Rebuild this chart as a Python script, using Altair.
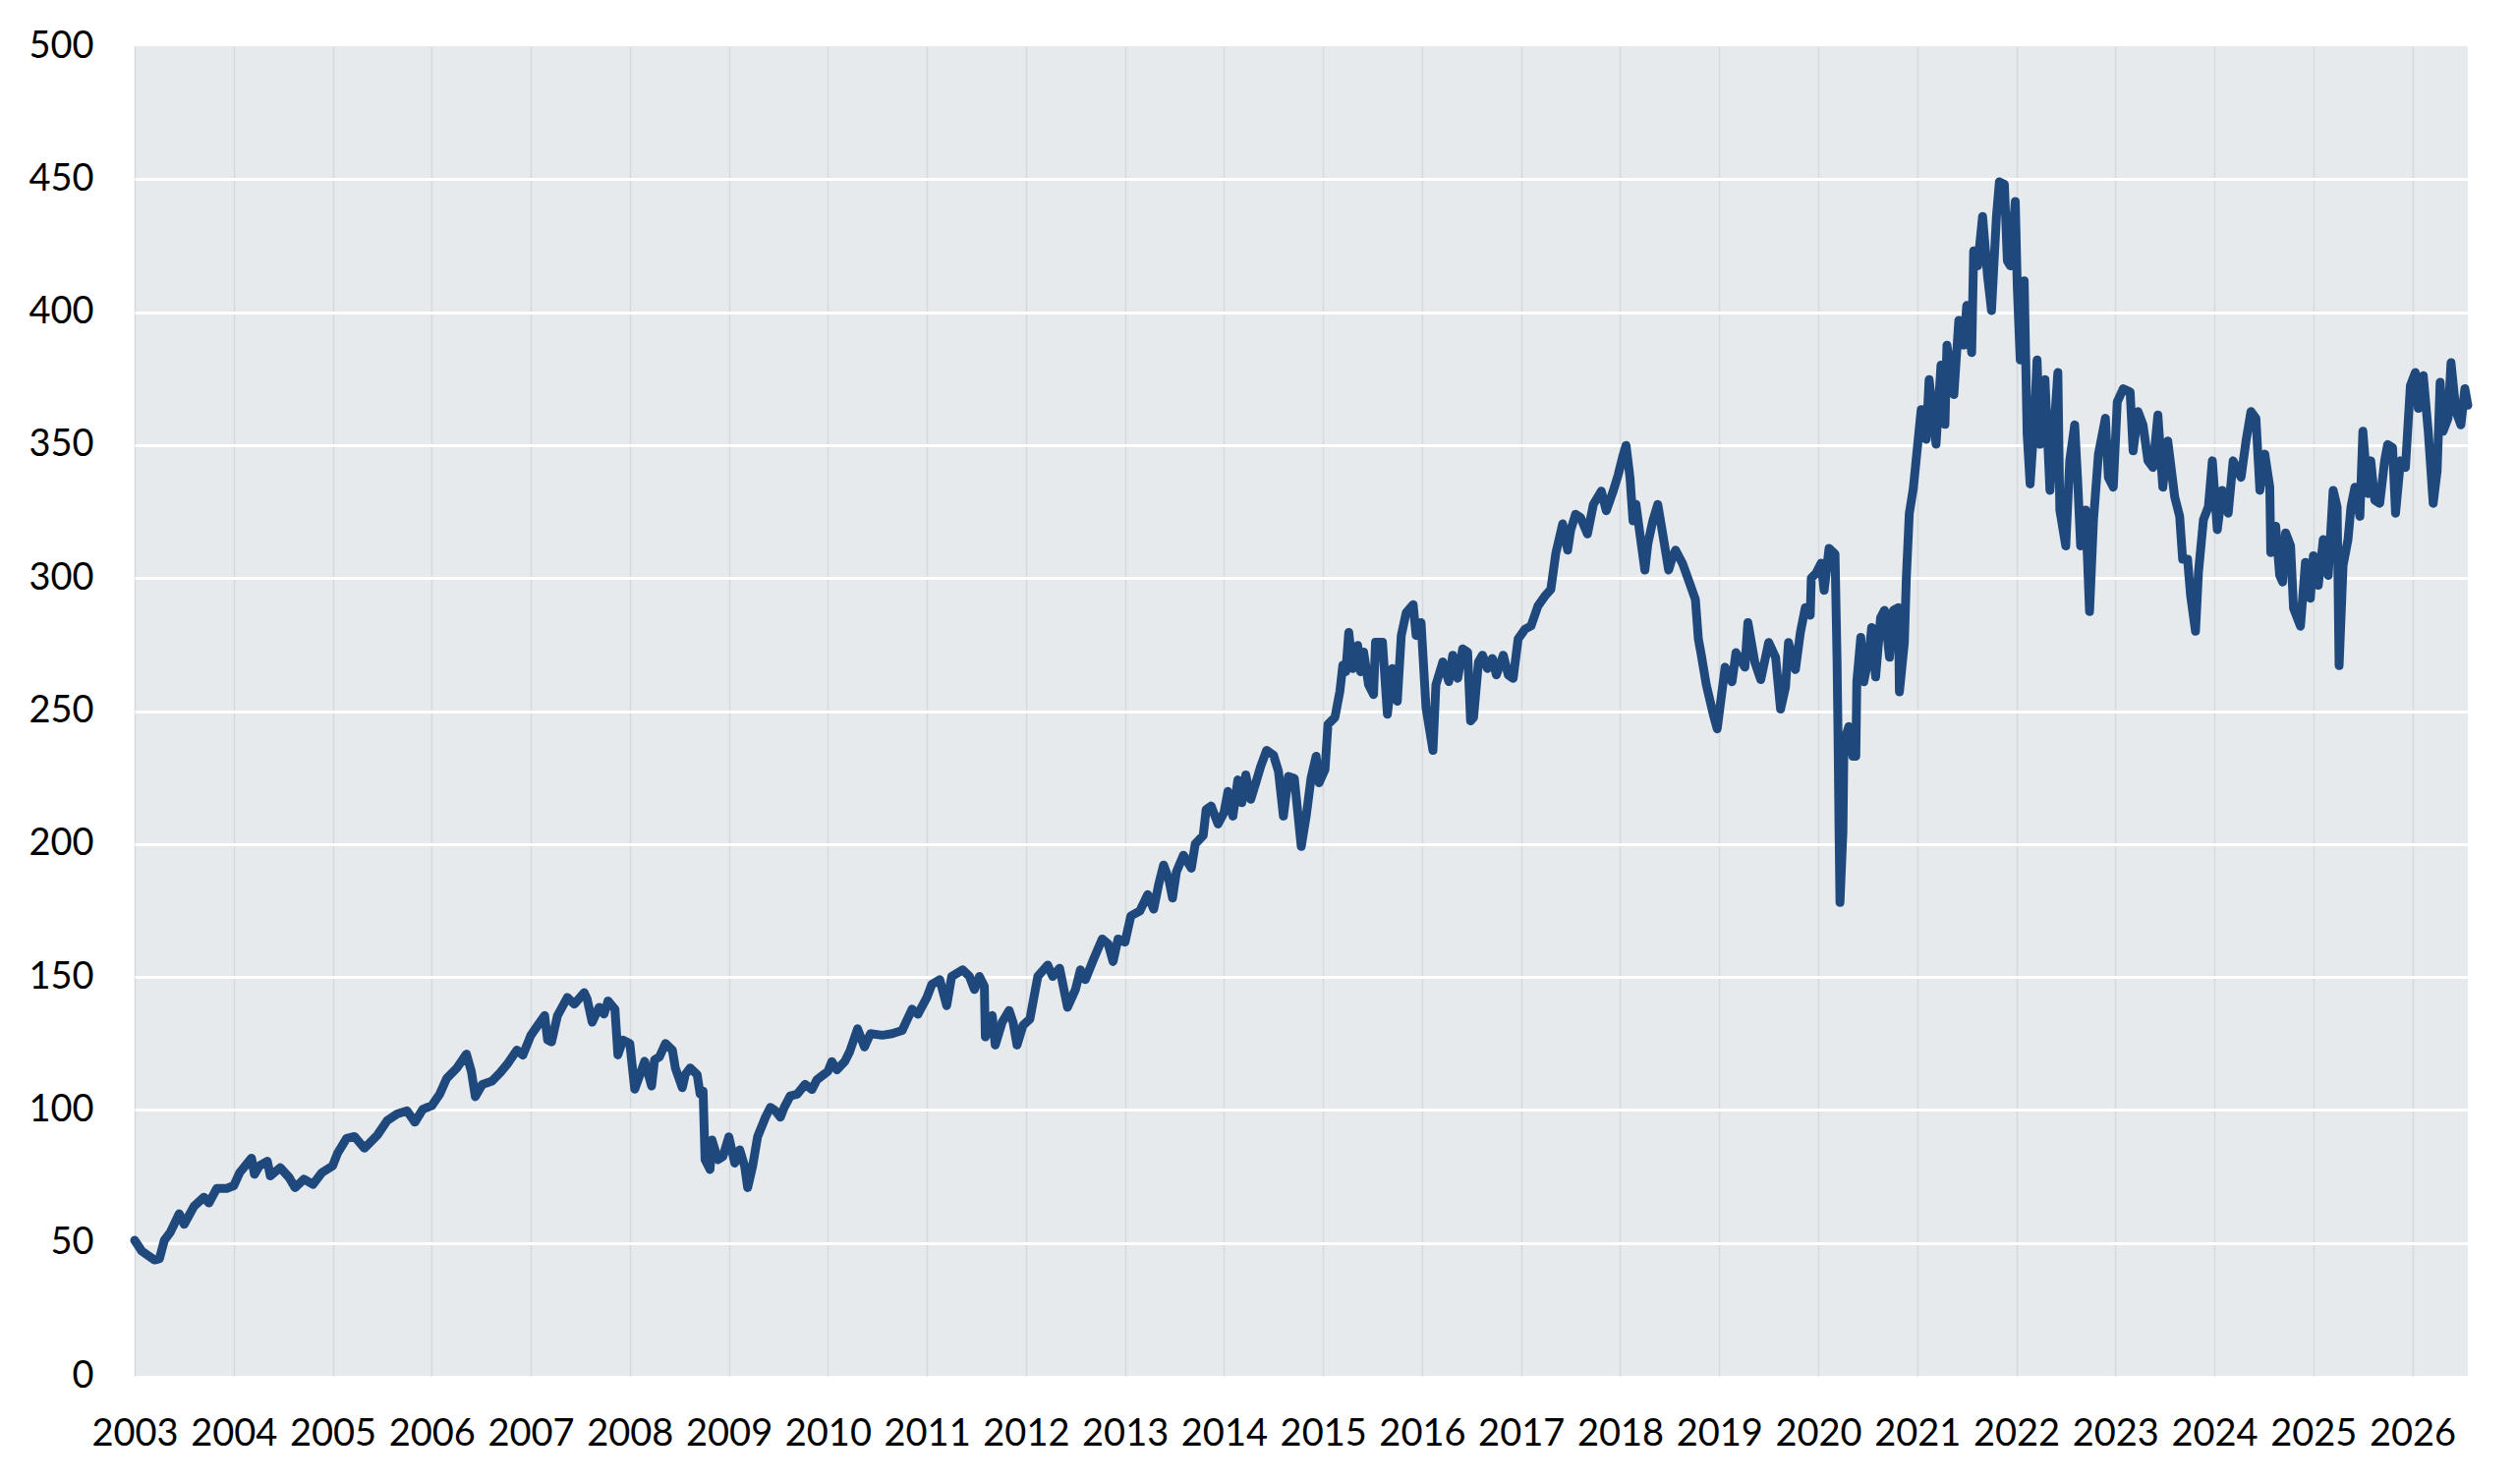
import pandas as pd
import altair as alt

# index level, decimal year -> value
years = [
    2003.00, 2003.07, 2003.13, 2003.20, 2003.25, 2003.30, 2003.36, 2003.45, 2003.50, 2003.60, 2003.70, 2003.75, 2003.83, 2003.93,
    2004.00, 2004.06, 2004.18, 2004.21, 2004.26, 2004.34, 2004.37, 2004.47, 2004.56, 2004.62, 2004.71, 2004.80, 2004.89,
    2005.00, 2005.05, 2005.14, 2005.22, 2005.32, 2005.45, 2005.55, 2005.65, 2005.75, 2005.83, 2005.91,
    2006.00, 2006.08, 2006.15, 2006.25, 2006.35, 2006.40, 2006.44, 2006.51, 2006.61, 2006.69, 2006.77, 2006.86, 2006.92,
    2007.00, 2007.07, 2007.14, 2007.17, 2007.21, 2007.27, 2007.37, 2007.44, 2007.54, 2007.57, 2007.62, 2007.69, 2007.74, 2007.78, 2007.85, 2007.88, 2007.93,
    2008.00, 2008.05, 2008.15, 2008.22, 2008.25, 2008.30, 2008.36, 2008.43, 2008.46, 2008.53, 2008.56, 2008.61, 2008.68, 2008.71, 2008.74, 2008.76, 2008.81, 2008.83, 2008.89, 2008.94,
    2009.00, 2009.06, 2009.11, 2009.16, 2009.19, 2009.24, 2009.29, 2009.37, 2009.42, 2009.47, 2009.52, 2009.56, 2009.62, 2009.69, 2009.77, 2009.84, 2009.89,
    2010.00, 2010.04, 2010.09, 2010.17, 2010.22, 2010.30, 2010.37, 2010.43, 2010.55, 2010.65, 2010.75, 2010.85, 2010.91,
    2011.00, 2011.05, 2011.13, 2011.20, 2011.25, 2011.36, 2011.43, 2011.48, 2011.53, 2011.58, 2011.59, 2011.66, 2011.69, 2011.76, 2011.83, 2011.87, 2011.91, 2011.97,
    2012.04, 2012.12, 2012.22, 2012.27, 2012.34, 2012.42, 2012.50, 2012.55, 2012.60, 2012.68, 2012.77, 2012.83, 2012.88, 2012.93,
    2013.00, 2013.06, 2013.15, 2013.23, 2013.29, 2013.34, 2013.39, 2013.44, 2013.48, 2013.52, 2013.59, 2013.67, 2013.71, 2013.79, 2013.82, 2013.87, 2013.94,
    2014.00, 2014.04, 2014.09, 2014.14, 2014.18, 2014.22, 2014.27, 2014.32, 2014.37, 2014.43, 2014.50, 2014.55, 2014.60, 2014.65, 2014.71, 2014.78, 2014.83, 2014.88, 2014.93, 2014.96,
    2015.02, 2015.05, 2015.12, 2015.17, 2015.20, 2015.23, 2015.26, 2015.30, 2015.35, 2015.38, 2015.41, 2015.46, 2015.51, 2015.53, 2015.60, 2015.65, 2015.70, 2015.75, 2015.79, 2015.84, 2015.91, 2015.94, 2015.99,
    2016.04, 2016.11, 2016.14, 2016.21, 2016.27, 2016.31, 2016.36, 2016.41, 2016.46, 2016.49, 2016.52, 2016.57, 2016.61, 2016.66, 2016.71, 2016.75, 2016.82, 2016.87, 2016.92, 2016.97,
    2017.04, 2017.10, 2017.17, 2017.24, 2017.30, 2017.35, 2017.42, 2017.47, 2017.50, 2017.55, 2017.60, 2017.67, 2017.73, 2017.81, 2017.86, 2017.93, 2017.98,
    2018.03, 2018.06, 2018.10, 2018.13, 2018.16, 2018.20, 2018.25, 2018.28, 2018.33, 2018.38, 2018.43, 2018.49, 2018.53, 2018.56, 2018.63, 2018.69, 2018.76, 2018.79, 2018.82, 2018.87, 2018.94, 2018.98,
    2019.06, 2019.13, 2019.17, 2019.26, 2019.29, 2019.36, 2019.42, 2019.50, 2019.57, 2019.62, 2019.67, 2019.70, 2019.77, 2019.82, 2019.87, 2019.92, 2019.93, 2019.98,
    2020.03, 2020.06, 2020.11, 2020.16, 2020.17, 2020.19, 2020.20, 2020.21, 2020.22, 2020.25, 2020.26, 2020.31, 2020.35, 2020.38, 2020.39, 2020.43, 2020.46, 2020.51, 2020.54, 2020.58, 2020.63, 2020.67, 2020.72, 2020.76, 2020.81, 2020.82, 2020.87, 2020.89, 2020.92, 2020.96,
    2021.00, 2021.04, 2021.09, 2021.12, 2021.19, 2021.24, 2021.28, 2021.30, 2021.37, 2021.42, 2021.47, 2021.50, 2021.55, 2021.57, 2021.61, 2021.66, 2021.71, 2021.75, 2021.80, 2021.83, 2021.88, 2021.91, 2021.94, 2021.99,
    2022.01, 2022.04, 2022.08, 2022.11, 2022.14, 2022.18, 2022.21, 2022.24, 2022.29, 2022.34, 2022.42, 2022.44, 2022.50, 2022.54, 2022.59, 2022.62, 2022.65, 2022.70, 2022.74, 2022.78, 2022.83, 2022.90, 2022.93, 2022.98,
    2023.02, 2023.08, 2023.15, 2023.18, 2023.23, 2023.28, 2023.33, 2023.38, 2023.43, 2023.48, 2023.53, 2023.60, 2023.65, 2023.68, 2023.73, 2023.76, 2023.81, 2023.84, 2023.89, 2023.94, 2023.98,
    2024.03, 2024.08, 2024.14, 2024.19, 2024.27, 2024.32, 2024.37, 2024.42, 2024.46, 2024.51, 2024.56, 2024.57, 2024.62, 2024.66, 2024.69, 2024.72, 2024.77, 2024.80, 2024.87, 2024.92, 2024.97,
    2025.00, 2025.05, 2025.10, 2025.15, 2025.20, 2025.24, 2025.26, 2025.30, 2025.35, 2025.38, 2025.42, 2025.47, 2025.50, 2025.55, 2025.58, 2025.62, 2025.67, 2025.72, 2025.75, 2025.80, 2025.83, 2025.88, 2025.93, 2025.98,
    2026.03, 2026.06, 2026.11, 2026.16, 2026.21, 2026.25, 2026.28, 2026.31, 2026.36, 2026.39, 2026.44, 2026.49, 2026.53, 2026.56,
]

index_values = [
    51, 47, 45.4, 43.6, 44, 51, 54, 61, 57, 63.8, 67.2, 65, 70.5, 70.5,
    71.5, 76.4, 81.9, 75.8, 79, 80.7, 75.2, 78.3, 74.6, 70.8, 74, 72, 76.4,
    79, 83.8, 89.3, 90, 85.6, 90.5, 96, 98.5, 99.7, 95.4, 100.3,
    101.6, 105.9, 111.8, 115.6, 121, 114.5, 105, 109.6, 110.9, 114, 117.6, 122.5, 120.6,
    128, 131.8, 135.5, 126.3, 125.6, 135.5, 142.3, 139.8, 144.1, 141.6, 133, 138.6, 136.1, 141, 137.9, 120.7, 126.3,
    125, 107.8, 118.3, 109, 118.9, 120, 125, 122.5, 115.8, 108.4, 113.3, 115.8, 113.3, 106, 107.1, 81.3, 77.6, 88.7, 81.3, 82.5,
    89.9, 80, 85, 78.8, 70.8, 78.8, 89.9, 97.3, 101, 99.7, 97.3, 101, 105.3, 105.9, 109.6, 107.7, 111.4,
    114.5, 118.2, 115.1, 118.2, 121.9, 130.5, 123.7, 128.7, 128.1, 128.7, 129.9, 137.9, 136,
    142.3, 147.2, 149, 139.2, 150.2, 152.7, 150.2, 145.3, 150.2, 146.5, 127.5, 135.5, 124.4, 133, 137.4, 133, 124.4, 131.8,
    134.2, 150.2, 154.5, 150.2, 153.3, 138.6, 145.3, 152.7, 149, 156.4, 164.3, 162.4, 155.8, 164.3,
    163.1, 173, 174.8, 181, 175.5, 184.7, 192.1, 187.1, 179.7, 189.6, 195.8, 190.9, 200.1, 203.2, 213, 214.3, 207.5,
    211.8, 219.8, 210.5, 224.1, 215.5, 226, 216.8, 222.9, 229.1, 235.2, 233.4, 227.3, 210.5, 225.4, 224.7, 199.1, 210.5, 225, 233, 223,
    228, 245, 247.6, 257.4, 267.3, 264.8, 279.6, 266, 274.7, 264.8, 272.2, 259.9, 256.2, 275.9, 275.9, 248.8, 266, 253.7, 278.4, 287, 290, 278.4, 283.3,
    251.2, 235.2, 259.9, 268.5, 261.1, 271, 262.3, 273.4, 272.2, 246.3, 247.6, 268.5, 271, 266, 269.8, 263.6, 271, 263.6, 262.3, 277.1,
    280.8, 282, 289.5, 293.2, 295.7, 309.2, 320.4, 310.5, 317.9, 324, 322.8, 316.6, 327.7, 332.7, 325.3, 332.7, 338.8,
    346.2, 349.9, 337.6, 321.5, 327.7, 316.6, 303, 312.9, 321.5, 327.7, 316.6, 303, 308, 310.5, 305.5, 299.3, 291.9, 277.1, 271, 259.9, 248.8, 243.3,
    266.5, 261, 272, 266.5, 283.3, 268.4, 261.8, 275.8, 270.2, 250.7, 259, 275.8, 265.6, 279.5, 288.9, 286, 300, 301.9,
    305.6, 295.4, 311.2, 309.4, 309, 270, 242, 207, 178, 205, 238.5, 244.2, 233, 233, 261, 277.7, 261, 270.2, 281.4, 262.8, 285.1, 287.9, 270.2, 287.9, 288.9, 257.2, 275.8, 300, 324.3, 333.6,
    348.5, 363.4, 352.2, 374.6, 350.3, 380.1, 357.8, 387.6, 369, 396.9, 387.6, 402.5, 384.8, 423, 417.4, 436, 413.7, 400.6, 436, 449, 448.1, 419.3, 417.4, 441.6,
    410, 382, 411.8, 354.1, 335.4, 357.8, 382, 350.3, 374.6, 333, 377.3, 325.6, 312.1, 344.1, 357.6, 336.7, 312.1, 325.6, 287.4, 321.9, 346.6, 360.1, 337.9, 334.2,
    366.3, 371.2, 370, 347.8, 362.6, 357.6, 344.1, 341.6, 361.3, 334.2, 351.5, 330.5, 323.2, 307.1, 307.1, 293.6, 280, 302.2, 321.9, 326.8, 344.1,
    318.2, 333, 324.4, 344.1, 337.9, 351.5, 362.6, 360.1, 333, 346.6, 334.2, 309.6, 319.5, 301, 298.5, 317, 312.1, 288.7, 281.9, 305.9, 292.4,
    308.4, 297.3, 314.5, 301, 333, 326.8, 267.1, 304.7, 314.5, 326.8, 334.2, 323.2, 355.2, 331.8, 344.1, 329.3, 328.1, 344.1, 350.2, 349, 324.4, 344.1, 341.6, 372.4,
    377.3, 363.8, 376.1, 355.2, 328.1, 340.4, 373.6, 355.2, 360.1, 381, 362.6, 357.6, 371.2, 365,
]

year_ticks = list(range(2003, 2027))
value_ticks = list(range(0, 501, 50))

df = pd.DataFrame({'year': years, 'value': index_values})

chart = alt.Chart(df).mark_line(
    color='#1f497d', strokeWidth=9, strokeJoin='round', strokeCap='round'
).encode(
    x=alt.X('year:Q',
            scale=alt.Scale(nice=False, zero=False),
            axis=alt.Axis(values=year_ticks, format='d', title=None, labelFlush=False,
                          labelOverlap=False, ticks=False, domain=False, labelPadding=40,
                          grid=True, gridColor='#d5d9de', gridWidth=1.5)),
    y=alt.Y('value:Q',
            scale=alt.Scale(domain=[0, 500], nice=False),
            axis=alt.Axis(values=value_ticks, title=None, ticks=False, domain=False,
                          labelPadding=42, grid=True, gridColor='white', gridWidth=3,
                          gridOpacity={'condition': {'test': 'datum.value === 0 || datum.value === 500',
                                                     'value': 0}, 'value': 1}))
).properties(
    width=2374,
    height=1353,
    autosize=alt.AutoSizeParams(type='none'),
    padding={'left': 129, 'top': 39, 'right': 41, 'bottom': 100}
).configure_view(
    fill='#e7eaed',
    strokeWidth=0
).configure_axis(
    labelFont='Lato',
    labelFontSize=38,
    labelColor='black'
)

chart.save('out.html', embed_options={'renderer': 'svg', 'actions': False})
